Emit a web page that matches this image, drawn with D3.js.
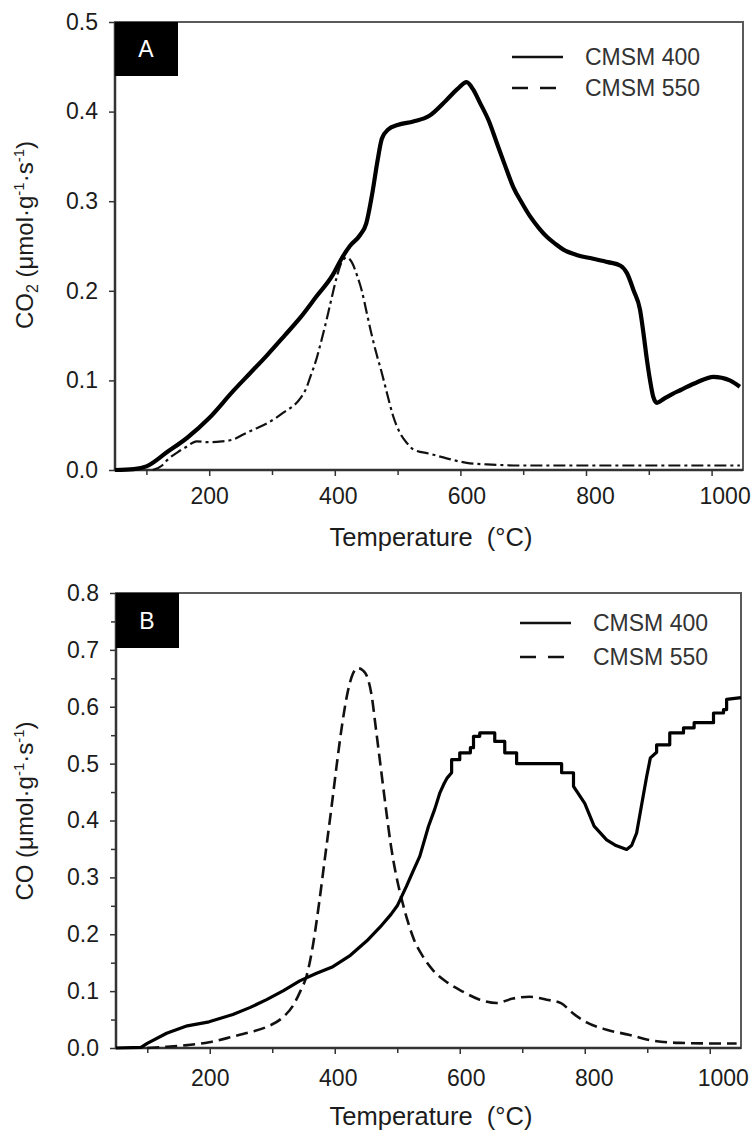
<!DOCTYPE html>
<html>
<head>
<meta charset="utf-8">
<script src="https://cdn.jsdelivr.net/npm/d3@7"></script>
<style>
  body { margin: 0; background: #fff; }
  svg { display: block; }
  text { font-family: "Liberation Sans", Arial, sans-serif; fill: #1c1c1c; }
</style>
</head>
<body>
<svg id="chart" width="754" height="1143"></svg>
<script>
// Temperature axis ticks (°C)
const xMajorTicks = [200, 400, 600, 800, 1000];
const xMinorTicks = [100, 300, 500, 700, 900];
const yTicksA = [0, 0.1, 0.2, 0.3, 0.4, 0.5];
const yTicksB = [0, 0.1, 0.2, 0.3, 0.4, 0.5, 0.6, 0.7, 0.8];
const yMinorB = [0.05, 0.15, 0.25, 0.35, 0.45, 0.55, 0.65, 0.75];
const seriesNames = ["CMSM 400", "CMSM 550"];

// Panel A: CO2 evolution, [temperature °C, µmol g-1 s-1]
const co2_400 = [
  [50, 0], [80, 0.001], [100, 0.004], [133, 0.02], [165, 0.036], [200, 0.058],
  [238, 0.088], [265, 0.108], [292, 0.128], [320, 0.15], [345, 0.17], [370, 0.193],
  [397, 0.218], [410, 0.235], [424, 0.25], [440, 0.262], [450, 0.275], [460, 0.31],
  [468, 0.345], [475, 0.37], [485, 0.38], [500, 0.385], [525, 0.389], [550, 0.395],
  [578, 0.413], [595, 0.425], [610, 0.433], [620, 0.425], [631, 0.41], [645, 0.39],
  [658, 0.365], [671, 0.34], [684, 0.316], [698, 0.298], [711, 0.283], [725, 0.27],
  [738, 0.26], [752, 0.252], [764, 0.246], [785, 0.24], [810, 0.236], [835, 0.232],
  [855, 0.228], [865, 0.22], [876, 0.2], [886, 0.179], [892, 0.15], [897, 0.123],
  [902, 0.1], [907, 0.082], [913, 0.075], [925, 0.08], [938, 0.085], [950, 0.089],
  [977, 0.098], [1003, 0.104], [1029, 0.1], [1045, 0.093]
];
const co2_550 = [
  [110, 0], [125, 0.005], [133, 0.011], [150, 0.02], [164, 0.026], [180, 0.032],
  [200, 0.031], [220, 0.032], [238, 0.034], [255, 0.04], [270, 0.045], [292, 0.052],
  [318, 0.064], [345, 0.08], [355, 0.092], [361, 0.104], [370, 0.122], [377, 0.14],
  [385, 0.162], [393, 0.186], [403, 0.215], [411, 0.232], [419, 0.237], [427, 0.232],
  [435, 0.218], [443, 0.2], [451, 0.175], [459, 0.15], [467, 0.128], [475, 0.108],
  [483, 0.086], [493, 0.06], [504, 0.041], [515, 0.03], [525, 0.023], [552, 0.018],
  [578, 0.013], [610, 0.008], [650, 0.006], [700, 0.005], [800, 0.005], [900, 0.005],
  [1000, 0.005], [1045, 0.005]
];

// Panel B: CO evolution, [temperature °C, µmol g-1 s-1]
const co_400 = [
  [50, 0], [90, 0.001], [100, 0.008], [131, 0.026], [164, 0.039], [199, 0.046],
  [237, 0.059], [264, 0.071], [291, 0.085], [318, 0.101], [344, 0.118], [370, 0.131],
  [397, 0.143], [425, 0.163], [451, 0.188], [472, 0.212], [490, 0.235], [500, 0.25],
  [515, 0.285], [525, 0.31], [536, 0.337], [550, 0.39], [560, 0.42], [568, 0.448],
  [575, 0.465], [580, 0.475], [587, 0.484], [587, 0.507], [600, 0.507], [600, 0.519],
  [617, 0.519], [617, 0.528], [622, 0.528], [622, 0.548], [632, 0.548], [632, 0.554],
  [656, 0.554], [656, 0.539], [672, 0.539], [672, 0.519], [691, 0.519], [691, 0.5],
  [763, 0.5], [763, 0.484], [782, 0.484], [782, 0.46], [800, 0.43], [815, 0.39],
  [835, 0.366], [850, 0.356], [867, 0.349], [875, 0.356], [883, 0.378], [893, 0.44],
  [899, 0.477], [905, 0.51], [915, 0.52], [915, 0.533], [936, 0.533], [936, 0.554],
  [958, 0.554], [958, 0.563], [975, 0.563], [975, 0.572], [1006, 0.572], [1006, 0.589],
  [1022, 0.589], [1022, 0.595], [1027, 0.595], [1027, 0.613], [1050, 0.616]
];
const co_550 = [
  [100, 0], [130, 0.002], [164, 0.005], [199, 0.01], [237, 0.02], [265, 0.028],
  [291, 0.037], [317, 0.054], [333, 0.074], [345, 0.1], [355, 0.127], [365, 0.18],
  [375, 0.255], [385, 0.34], [395, 0.425], [404, 0.505], [412, 0.57], [420, 0.622],
  [429, 0.658], [437, 0.668], [445, 0.664], [451, 0.655], [459, 0.62], [466, 0.56],
  [474, 0.49], [482, 0.42], [490, 0.355], [498, 0.305], [507, 0.262], [517, 0.222],
  [527, 0.19], [541, 0.161], [557, 0.137], [579, 0.116], [605, 0.099], [632, 0.085],
  [659, 0.079], [685, 0.087], [712, 0.09], [739, 0.085], [762, 0.079], [781, 0.061],
  [803, 0.045], [835, 0.032], [872, 0.023], [899, 0.015], [952, 0.009], [1005, 0.008],
  [1043, 0.008]
];

const svg = d3.select("#chart");

function drawPanel(cfg) {
  const x = d3.scaleLinear().domain([50, 1050]).range([cfg.left, cfg.right]);
  const y = d3.scaleLinear().domain([0, cfg.ymax]).range([cfg.bottom, cfg.top]);
  const g = svg.append("g");

  // Minor ticks
  g.append("g")
    .attr("transform", `translate(0,${cfg.bottom})`)
    .call(d3.axisBottom(x).tickValues(xMinorTicks).tickSize(5).tickFormat(""))
    .call(a => a.select(".domain").remove());
  if (cfg.yMinor) {
    g.append("g")
      .attr("transform", `translate(${cfg.left},0)`)
      .call(d3.axisLeft(y).tickValues(cfg.yMinor).tickSize(5).tickFormat(""))
      .call(a => a.select(".domain").remove());
  }

  // Major x axis
  const xa = g.append("g")
    .attr("transform", `translate(0,${cfg.bottom})`)
    .call(d3.axisBottom(x).tickValues(xMajorTicks).tickSize(6)
      .tickPadding(cfg.xPad).tickFormat(d3.format("d")));
  xa.select(".domain").remove();
  xa.selectAll("text").style("font-size", "23px").attr("fill", "#1c1c1c")
    .attr("dx", d => d === 1000 ? 13 : (d - 200) / 100 * 1.5);

  // Major y axis
  const ya = g.append("g")
    .attr("transform", `translate(${cfg.left},0)`)
    .call(d3.axisLeft(y).tickValues(cfg.yTicks).tickSize(6).tickPadding(11)
      .tickFormat(d3.format(".1f")));
  ya.select(".domain").remove();
  ya.selectAll("text").style("font-size", "23px").attr("fill", "#1c1c1c");
  g.selectAll(".tick line").attr("stroke", "#333").attr("stroke-width", 1.5);

  // Frame
  g.append("rect")
    .attr("x", cfg.left).attr("y", cfg.top)
    .attr("width", cfg.right - cfg.left).attr("height", cfg.bottom - cfg.top)
    .attr("fill", "none").attr("stroke", "#5a5a5a").attr("stroke-width", 2);
  g.append("line")
    .attr("x1", cfg.left).attr("x2", cfg.left)
    .attr("y1", cfg.top).attr("y2", cfg.bottom + 1)
    .attr("stroke", "#333").attr("stroke-width", 2.5);
  g.append("line")
    .attr("x1", cfg.left - 1).attr("x2", cfg.right)
    .attr("y1", cfg.bottom).attr("y2", cfg.bottom)
    .attr("stroke", "#333").attr("stroke-width", 2.5);

  // Curves
  const smooth = d3.line().curve(d3.curveMonotoneX).x(d => x(d[0])).y(d => y(d[1]));
  const plain = d3.line().x(d => x(d[0])).y(d => y(d[1]));
  g.append("path").datum(cfg.s550).attr("d", smooth)
    .attr("fill", "none").attr("stroke", "#111").attr("stroke-width", cfg.w550)
    .attr("stroke-dasharray", cfg.dash550).attr("stroke-linejoin", "round");
  g.append("path").datum(cfg.s400).attr("d", cfg.stepped ? plain : smooth)
    .attr("fill", "none").attr("stroke", "#000").attr("stroke-width", cfg.w400)
    .attr("stroke-linejoin", "round");

  // Panel letter
  g.append("rect")
    .attr("x", cfg.left).attr("y", cfg.top)
    .attr("width", 63).attr("height", cfg.boxH).attr("fill", "#000");
  g.append("text")
    .attr("x", cfg.left + 31).attr("y", cfg.top + cfg.boxH / 2 + 8)
    .attr("text-anchor", "middle").style("font-size", "23px")
    .attr("fill", "#fff").style("fill", "#fff").text(cfg.letter);

  // Legend
  seriesNames.forEach((name, i) => {
    const ly = cfg.legY + i * cfg.legGap;
    g.append("line")
      .attr("x1", cfg.legX).attr("x2", cfg.legX + 51)
      .attr("y1", ly).attr("y2", ly)
      .attr("stroke", "#111").attr("stroke-width", 2.5)
      .attr("stroke-dasharray", i === 1 ? "16,12" : null);
    g.append("text")
      .attr("x", cfg.legX + 73).attr("y", ly + 8)
      .style("font-size", "23px").attr("fill", "#333").style("fill", "#333")
      .text(name);
  });

  // Axis titles
  g.append("text")
    .attr("x", 431).attr("y", cfg.xTitleY)
    .attr("text-anchor", "middle").style("font-size", "25.5px")
    .text("Temperature\u00a0\u00a0(°C)");

  const yt = g.append("text")
    .attr("transform", `translate(33,${cfg.yTitleC}) rotate(-90)`)
    .attr("text-anchor", "middle").style("font-size", "24px");
  yt.append("tspan").text(cfg.gas);
  if (cfg.sub) {
    yt.append("tspan").attr("dy", 5).style("font-size", "16px").text(cfg.sub);
    yt.append("tspan").attr("dy", -5).text(" (μmol·g");
  } else {
    yt.append("tspan").text(" (μmol·g");
  }
  yt.append("tspan").attr("dy", -9).style("font-size", "15px").text("-1");
  yt.append("tspan").attr("dy", 9).text("·s");
  yt.append("tspan").attr("dy", -9).style("font-size", "15px").text("-1");
  yt.append("tspan").attr("dy", 9).text(")");
}

drawPanel({
  left: 115, right: 743, top: 22, bottom: 470, ymax: 0.5,
  yTicks: yTicksA, yMinor: null, xPad: 12, stepped: false,
  s400: co2_400, s550: co2_550, w400: 4.2, w550: 2.2, dash550: "12,4,3,4",
  letter: "A", boxH: 54, legX: 512, legY: 57, legGap: 31,
  xTitleY: 546, yTitleC: 235, gas: "CO", sub: "2"
});

drawPanel({
  left: 116, right: 741, top: 593, bottom: 1048, ymax: 0.8,
  yTicks: yTicksB, yMinor: yMinorB, xPad: 16, stepped: true,
  s400: co_400, s550: co_550, w400: 3.2, w550: 2.6, dash550: "12,6",
  letter: "B", boxH: 55, legX: 520, legY: 623, legGap: 34,
  xTitleY: 1125, yTitleC: 811, gas: "CO", sub: null
});
</script>
</body>
</html>
